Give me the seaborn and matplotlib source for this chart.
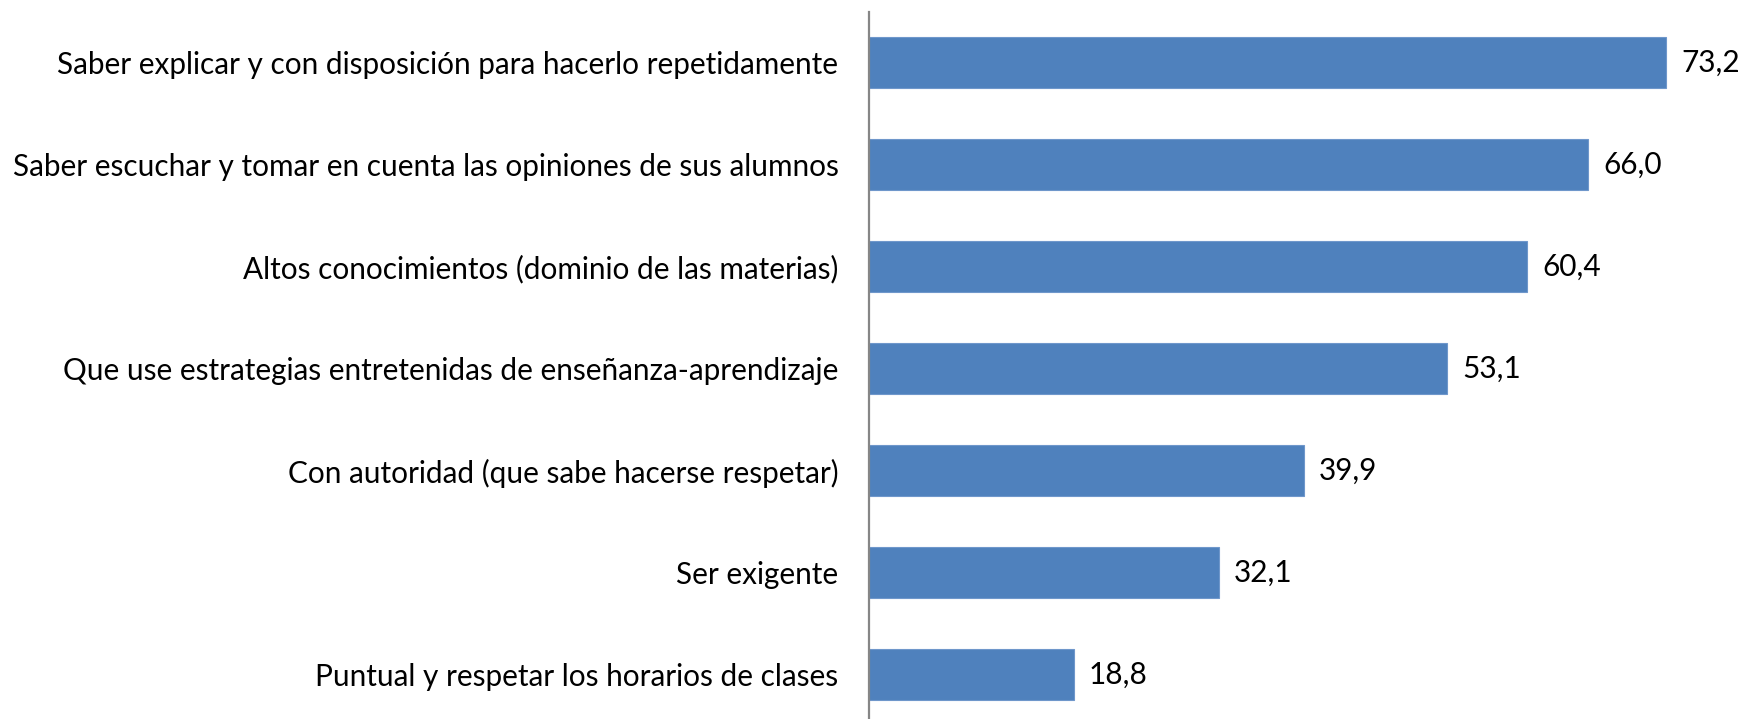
import matplotlib
matplotlib.use("Agg")
import matplotlib.pyplot as plt
import pandas as pd
import seaborn as sns

categorias = [
    "Saber explicar y con disposición para hacerlo repetidamente",
    "Saber escuchar y tomar en cuenta las opiniones de sus alumnos",
    "Altos conocimientos (dominio de las materias)",
    "Que use estrategias entretenidas de enseñanza-aprendizaje",
    "Con autoridad (que sabe hacerse respetar)",
    "Ser exigente",
    "Puntual y respetar los horarios de clases",
]
valores = [73.2, 66.0, 60.4, 53.1, 39.9, 32.1, 18.8]

df = pd.DataFrame({"categoria": categorias, "valor": valores})

sns.set_style("white")
plt.rcParams["font.family"] = ["Lato", "DejaVu Sans"]
plt.rcParams["text.color"] = "black"
plt.rcParams["ytick.color"] = "black"

W, H = 1743, 719
fig = plt.figure(figsize=(W / 100, H / 100), dpi=100)
# ejes: desde el eje vertical (x=869 px) hasta el borde derecho
ax = fig.add_axes([869 / W, 0.0, 1 - 869 / W, (719 - 12) / H])

# tamaño de letra ajustado al ancho de la etiqueta más larga (~827 px)
renderer = fig.canvas.get_renderer()
t = fig.text(0, 0, categorias[1], fontsize=20)
ancho = t.get_window_extent(renderer).width
t.remove()
fs = 20 * 827 / ancho

sns.barplot(data=df, x="valor", y="categoria", orient="h", color="#4F81BD",
            width=0.5, saturation=1, ax=ax, edgecolor="#6F97CB", linewidth=0.8)

ax.set_xlim(0, (W - 869) / 10.89)
ax.set_ylim(6.436, -0.495)

etiquetas = [f"{v:.1f}".replace(".", ",") for v in valores]
ax.bar_label(ax.containers[0], labels=etiquetas, padding=11, fontsize=fs)

ax.set_xlabel("")
ax.set_ylabel("")
ax.set_xticks([])
ax.tick_params(axis="y", length=0, pad=22, labelsize=fs)
for s in ["top", "right", "bottom"]:
    ax.spines[s].set_visible(False)
ax.spines["left"].set_color("#868686")
ax.spines["left"].set_linewidth(1.6)

fig.savefig("out.png", dpi=100)
